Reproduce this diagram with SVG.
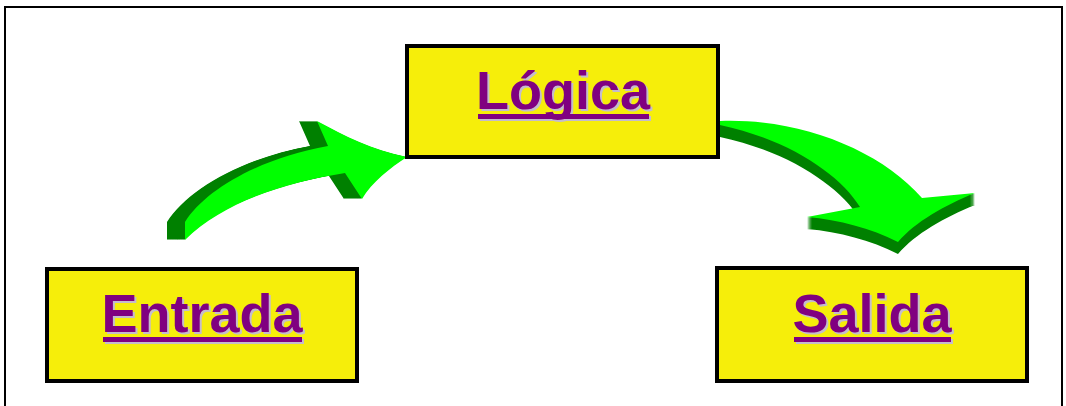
<svg xmlns="http://www.w3.org/2000/svg" width="1066" height="406" viewBox="0 0 1066 406">
<style>
.box{fill:#f6ee0a;stroke:#000;stroke-width:4}
.lbl{font-family:"Liberation Sans",Arial,sans-serif;font-weight:bold;font-size:54px;text-anchor:middle}
.fg{fill:#800080}
.sh{fill:#c4bccc}
.dk{fill:#008000}
.lt{fill:#00ff00}
</style>
<defs>
<path id="a1" d="M185,240 L185,222 C205,190 260,158 328,146 L317,121 C345,136 372,150 407,157 C390,168 372,182 362,199 L345,173 C290,182 225,200 185,240 Z"/>
<path id="a2" d="M720,121 C800,118 880,150 922,198 L975,193 C945,205 915,222 898,242 C870,228 840,220 807,217 L860,207 C840,175 790,140 720,125 Z"/>
</defs>
<path d="M5,406 V7 H1062 V406" fill="none" stroke="#000" stroke-width="2"/>
<g id="connectors">
<g id="arrow-entrada-logica" class="dk">
<use href="#a1" x="-1"/><use href="#a1" x="-2"/><use href="#a1" x="-3"/><use href="#a1" x="-4"/><use href="#a1" x="-5"/><use href="#a1" x="-6"/><use href="#a1" x="-7"/><use href="#a1" x="-8"/><use href="#a1" x="-9"/><use href="#a1" x="-10"/><use href="#a1" x="-11"/><use href="#a1" x="-12"/><use href="#a1" x="-13"/><use href="#a1" x="-14"/><use href="#a1" x="-15"/><use href="#a1" x="-16"/><use href="#a1" x="-17"/><use href="#a1" x="-18"/>
<use href="#a1" class="lt"/>
</g>
<g id="arrow-logica-salida" class="dk">
<use href="#a2" y="1"/><use href="#a2" y="2"/><use href="#a2" y="3"/><use href="#a2" y="4"/><use href="#a2" y="5"/><use href="#a2" y="6"/><use href="#a2" y="7"/><use href="#a2" y="8"/><use href="#a2" y="9"/><use href="#a2" y="10"/><use href="#a2" y="11"/><use href="#a2" y="12"/>
<use href="#a2" class="lt"/>
</g>
</g>
<g id="logica">
<rect class="box" x="407" y="46" width="311" height="111"/>
<text class="lbl sh" x="565" y="111">Lógica</text>
<rect class="sh" x="480" y="116" width="171" height="5"/>
<text class="lbl fg" x="563" y="109">Lógica</text>
<rect class="fg" x="478" y="114" width="171" height="5"/>
</g>
<g id="entrada">
<rect class="box" x="47" y="269" width="310" height="112"/>
<text class="lbl sh" x="204" y="334">Entrada</text>
<rect class="sh" x="105" y="339" width="199" height="5"/>
<text class="lbl fg" x="202" y="332">Entrada</text>
<rect class="fg" x="103" y="337" width="199" height="5"/>
</g>
<g id="salida">
<rect class="box" x="717" y="268" width="310" height="113"/>
<text class="lbl sh" x="874" y="334">Salida</text>
<rect class="sh" x="796" y="339" width="157" height="5"/>
<text class="lbl fg" x="872" y="332">Salida</text>
<rect class="fg" x="794" y="337" width="157" height="5"/>
</g>
</svg>
